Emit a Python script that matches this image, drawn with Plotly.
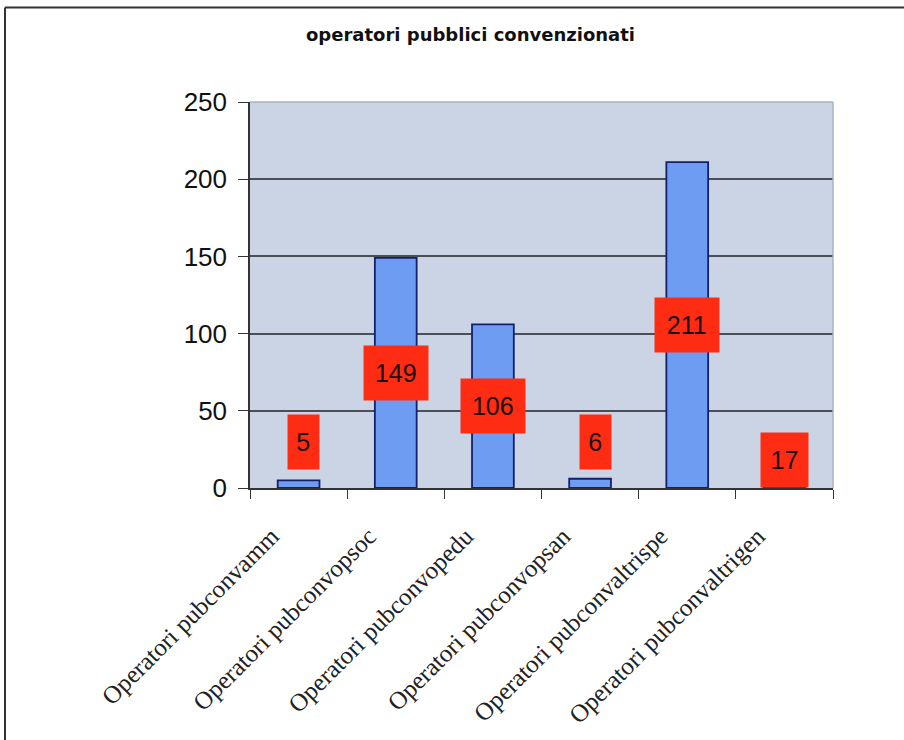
import plotly.graph_objects as go

# Operator counts per category
categories = [
    "Operatori pubconvamm",
    "Operatori pubconvopsoc",
    "Operatori pubconvopedu",
    "Operatori pubconvopsan",
    "Operatori pubconvaltrispe",
    "Operatori pubconvaltrigen",
]
values = [5, 149, 106, 6, 211, 17]
y_ticks = [0, 50, 100, 150, 200, 250]
title_text = "operatori pubblici convenzionati"

PLOT_BG = "#cad4e4"
BAR_FILL = "#6e9cf2"
BAR_EDGE = "#14206a"
LABEL_BG = "#ff2c14"

# plot-area placement in pixels (figure is 904 x 740)
W, H = 904, 740
L, R, T, B = 250, 71, 102, 252
pw, ph = W - L - R, H - T - B


def px_x(p):
    return (p - L) / pw


def px_y(p):
    return (H - B - p) / ph


fig = go.Figure()
fig.add_trace(
    go.Bar(
        x=categories,
        y=values,
        marker=dict(color=BAR_FILL, line=dict(color=BAR_EDGE, width=1.8)),
        hoverinfo="x+y",
    )
)

# red value boxes: centred on the bar for tall bars, lifted above short ones
annotations = []
for cat, v in zip(categories, values):
    n = len(str(v))
    box_w = 16.5 * n + 10
    if v >= 50:
        yc, anchor = v / 2, "middle"
    elif v >= 10:
        yc, anchor = 0, "bottom"
    else:
        yc, anchor = 30, "middle"
    annotations.append(
        dict(
            x=cat,
            y=yc,
            xref="x",
            yref="y",
            text=str(v),
            showarrow=False,
            yanchor=anchor,
            xanchor="center",
            xshift=5 if n == 1 else 0,
            width=box_w,
            height=50,
            bgcolor=LABEL_BG,
            borderpad=2,
            font=dict(family="Liberation Sans, Arial", size=25, color="#1a0a08"),
        )
    )

annotations.append(
    dict(
        x=px_x(470),
        y=px_y(34),
        xref="paper",
        yref="paper",
        text="<b>" + title_text + "</b>",
        showarrow=False,
        xanchor="center",
        yanchor="middle",
        font=dict(family="DejaVu Sans", size=18, color="#111111"),
    )
)

shapes = [
    # light border on the top and right of the plot area
    dict(type="line", xref="paper", yref="paper", x0=0, x1=1, y0=1, y1=1,
         line=dict(color="#a9b3c2", width=1.5)),
    dict(type="line", xref="paper", yref="paper", x0=1, x1=1, y0=0, y1=1,
         line=dict(color="#a9b3c2", width=1.5)),
    # outer frame lines (top and left)
    dict(type="line", xref="paper", yref="paper", x0=px_x(5), x1=px_x(904),
         y0=px_y(7.5), y1=px_y(7.5), line=dict(color="#333333", width=2)),
    dict(type="line", xref="paper", yref="paper", x0=px_x(5), x1=px_x(5),
         y0=px_y(7.5), y1=px_y(740), line=dict(color="#333333", width=2)),
]

fig.update_layout(
    width=W,
    height=H,
    margin=dict(l=L, r=R, t=T, b=B, pad=0, autoexpand=False),
    paper_bgcolor="white",
    plot_bgcolor=PLOT_BG,
    bargap=0.57,
    showlegend=False,
    annotations=annotations,
    shapes=shapes,
    xaxis=dict(
        type="category",
        automargin=False,
        tickangle=-45,
        tickson="boundaries",
        ticks="outside",
        ticklen=9,
        tickcolor="#333333",
        showline=True,
        linecolor="#333333",
        linewidth=1.5,
        showgrid=False,
        ticklabelstandoff=22,
        ticklabelshift=-27,
        tickfont=dict(family="Liberation Serif, Times New Roman", size=25, color="#222222"),
    ),
    yaxis=dict(
        range=[0, 250],
        tickvals=y_ticks,
        automargin=False,
        ticks="outside",
        ticklen=10,
        tickcolor="#333333",
        showline=True,
        linecolor="#333333",
        linewidth=1.5,
        showgrid=True,
        gridcolor="#4a4f57",
        gridwidth=1.5,
        zeroline=False,
        ticklabelstandoff=6,
        tickfont=dict(family="Liberation Sans, Arial", size=26, color="#111111"),
    ),
)

fig.write_html("out.html")
